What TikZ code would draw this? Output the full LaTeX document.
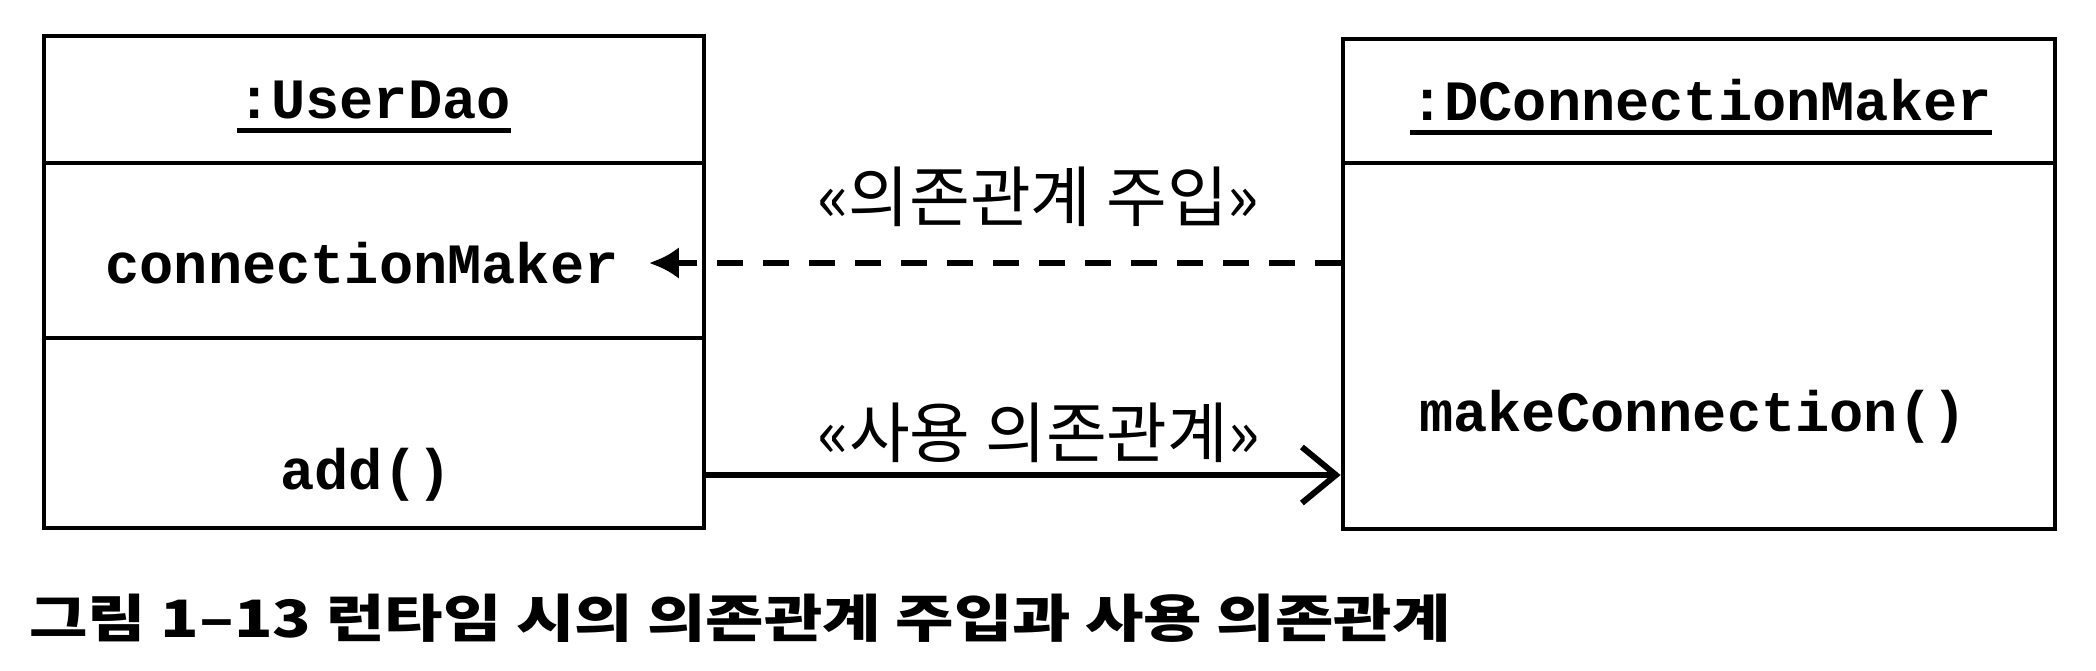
\documentclass[tikz,border=0pt]{standalone}
\usepackage{fontspec}
\setmonofont{Liberation Mono}
\newfontfamily\kr{Noto Sans CJK KR}
\usetikzlibrary{arrows.meta}
\tikzset{
  boxline/.style={draw=black, line width=2.4pt},
  objbox/.style={boxline, fill=white, inner sep=0pt},
  mono/.style={font=\fontsize{28.5}{30}\selectfont\ttfamily\bfseries, inner sep=0pt},
  lbl/.style={font=\fontsize{33}{35}\selectfont\kr, inner sep=0pt},
  captext/.style={font=\fontsize{25}{27}\selectfont\kr\bfseries, inner sep=0pt, anchor=west},
  dep/.style={line width=3pt},
}
\begin{document}
\begin{tikzpicture}[x=0.5pt,y=-0.5pt]
\useasboundingbox (0,0) rectangle (2096,670);
\fill[white] (0,0) rectangle (2096,670);
% boxes
\node[objbox, minimum width=330pt, minimum height=246pt] (ud) at (374,282) {};
\node[objbox, minimum width=356pt, minimum height=245pt] (dcm) at (1699,284) {};
\draw[boxline] (44,163) -- (704,163);
\draw[boxline] (44,338) -- (704,338);
\draw[boxline] (1343,163) -- (2055,163);
% texts
\node[mono] (udname) at (374,100) {:UserDao};
\draw[line width=2.4pt] ([yshift=-6pt]udname.base west) -- ([yshift=-6pt]udname.base east);
\node[mono] (cm) at (362,263) {connectionMaker};
\node[mono] (add) at (366,475) {add()};
\node[mono] (dcmname) at (1701,100) {:DConnectionMaker};
\draw[line width=2.4pt] ([yshift=-6pt]dcmname.base west) -- ([yshift=-6pt]dcmname.base east);
\node[mono] (mc) at (1693,417) {makeConnection()};
% connectors
\draw[dep, dash pattern=on 13pt off 10pt, -{Latex[length=15pt,width=16pt]}]
  (dcm.west |- cm) -- ([xshift=15pt]cm.east)
  node[lbl, pos=0.437, yshift=33pt] (lbl1) {«의존관계 주입»};
\draw[dep, -{Straight Barb[length=17pt,width=28pt]}]
  (ud.east |- add) -- (dcm.west |- add)
  node[lbl, pos=0.524, yshift=21pt] (lbl2) {«사용 의존관계»};
% caption
\node[captext] (caption) at (29,618) {\scalebox{1.27}[1.03]{그림 1–13 런타임 시의 의존관계 주입과 사용 의존관계}};
\end{tikzpicture}
\end{document}
